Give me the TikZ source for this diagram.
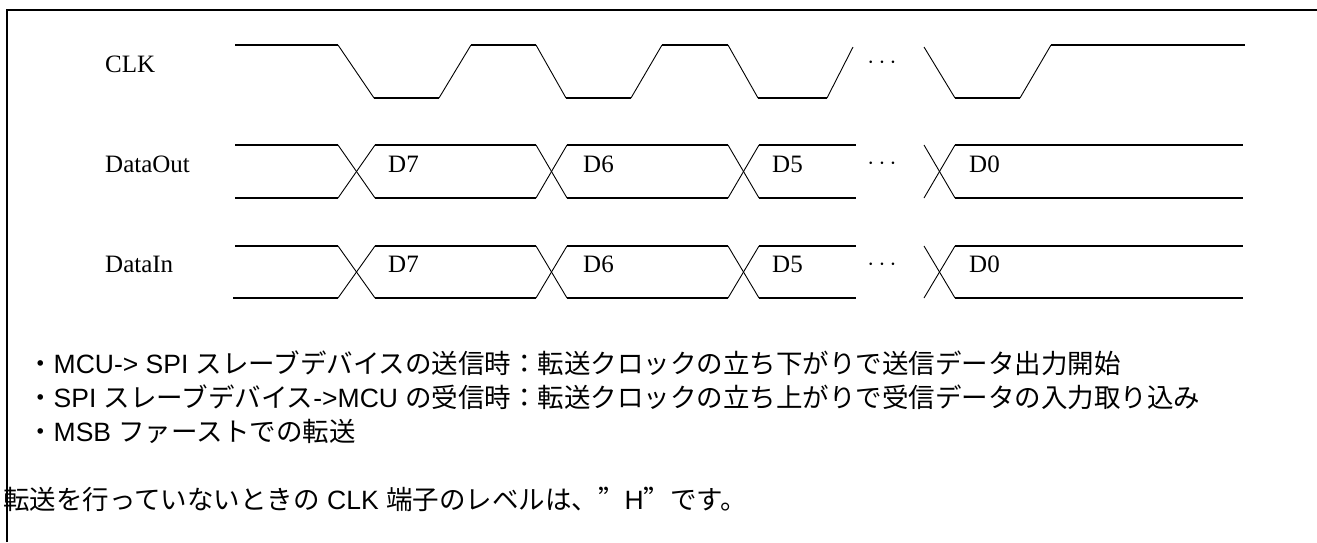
\documentclass[tikz,border=0pt]{standalone}
\usepackage{fontspec}
\setmainfont{Liberation Serif}
\newfontfamily\jp{Noto Sans CJK JP}
\newfontfamily\lat{Liberation Sans}
\newcommand{\la}[1]{{\lat #1}}
\newcommand{\fwq}{{\addfontfeature{CharacterWidth=Full}”}}
\begin{document}
\begin{tikzpicture}[x=1pt,y=-1pt,
  hline/.style={line width=2pt},
  edge/.style={line width=0.9pt},
  frame/.style={line width=2pt},
  lbl/.style={font=\fontsize{25}{30}\selectfont, anchor=base west, inner sep=0pt},
  dots/.style={font=\fontsize{25}{30}\selectfont, inner sep=0pt},
  jtxt/.style={font=\jp\fontsize{26.5}{30}\selectfont, anchor=base west, inner sep=0pt}]
\useasboundingbox (0,0) rectangle (1317,542);
% frame
\draw[frame] (7,542) -- (7,10) -- (1317,10);
% signal labels
\node[lbl] (clk) at (105,72) {CLK};
\node[lbl] (dout) at (105,172) {DataOut};
\node[lbl] (din) at (105,272) {DataIn};
% CLK waveform
\draw[hline] (235,45) -- (338,45);
\draw[hline] (374,98) -- (439,98);
\draw[hline] (471,45) -- (536,45);
\draw[hline] (566,98) -- (631,98);
\draw[hline] (662,45) -- (728,45);
\draw[hline] (758,98) -- (827,98);
\draw[hline] (955,98) -- (1020,98);
\draw[hline] (1051,45) -- (1245,45);
\draw[edge] (338,45) -- (374,98);
\draw[edge] (439,98) -- (471,45);
\draw[edge] (536,45) -- (566,98);
\draw[edge] (631,98) -- (662,45);
\draw[edge] (728,45) -- (758,98);
\draw[edge] (827,98) -- (853,47);
\draw[edge] (924,47) -- (955,98);
\draw[edge] (1020,98) -- (1051,45);
\node[dots] (cdots) at (882,63) {$\cdots$};
% Data waveforms
\foreach \t/\b/\s in {145/198/235, 246/298/233}{
  \draw[hline] (235,\t) -- (338,\t);
  \draw[hline] (\s,\b) -- (338,\b);
  \draw[hline] (375,\t) -- (536,\t);
  \draw[hline] (375,\b) -- (536,\b);
  \draw[hline] (567,\t) -- (728,\t);
  \draw[hline] (567,\b) -- (728,\b);
  \draw[hline] (759,\t) -- (856,\t);
  \draw[hline] (759,\b) -- (856,\b);
  \draw[hline] (955,\t) -- (1243,\t);
  \draw[hline] (955,\b) -- (1243,\b);
  \foreach \xa/\xb in {338/375, 536/567, 728/759, 924/955}{
    \draw[edge] (\xa,\t) -- (\xb,\b);
    \draw[edge] (\xa,\b) -- (\xb,\t);
  }
}
\node[lbl] (o7) at (388,172) {D7};
\node[lbl] (o6) at (583,172) {D6};
\node[lbl] (o5) at (772,172) {D5};
\node[lbl] (o0) at (969,172) {D0};
\node[dots] (odots) at (882,164) {$\cdots$};
\node[lbl] (i7) at (388,272) {D7};
\node[lbl] (i6) at (583,272) {D6};
\node[lbl] (i5) at (772,272) {D5};
\node[lbl] (i0) at (969,272) {D0};
\node[dots] (idots) at (882,265) {$\cdots$};
% notes
\node[jtxt] (n1) at (27,373) {・\la{MCU-> SPI }スレーブデバイスの送信時：転送クロックの立ち下がりで送信データ出力開始};
\node[jtxt] (n2) at (27,407) {・\la{SPI }スレーブデバイス\la{->MCU }の受信時：転送クロックの立ち上がりで受信データの入力取り込み};
\node[jtxt] (n3) at (27,441) {・\la{MSB }ファーストでの転送};
\node[jtxt] (n4) at (3,509) {転送を行っていないときの\la{ CLK }端子のレベルは、\fwq\la{H}\fwq です。};
\end{tikzpicture}
\end{document}
